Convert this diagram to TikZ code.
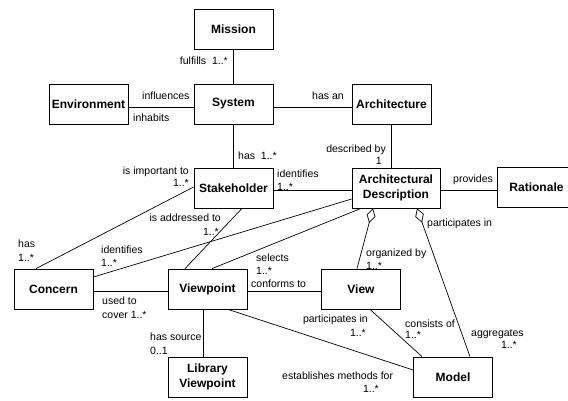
\documentclass[tikz,border=0pt]{standalone}
\usepackage{fontspec}
\setmainfont{Liberation Sans}
\usetikzlibrary{arrows.meta}
\begin{document}
\begin{tikzpicture}[x=1pt,y=-1pt,
  box/.style={draw,line width=0.8pt,minimum width=79pt,minimum height=40pt,inner sep=0pt,
    align=center,font=\bfseries\fontsize{12}{14.5}\selectfont},
  conn/.style={line width=0.7pt},
  agg/.style={line width=0.7pt,{Diamond[open,length=15pt,width=9pt]}-},
  lbl/.style={inner sep=0pt,font=\fontsize{10.5}{12}\selectfont},
  lw/.style={lbl,anchor=base west},
  le/.style={lbl,anchor=base east}]
\useasboundingbox (0,0) rectangle (568,400);
% boxes
\node[box] (mission) at (233.5,29) {Mission};
\node[box] (env) at (88.5,104) {Environment};
\node[box] (sys) at (233.5,104) {System};
\node[box] (arch) at (391.5,104) {Architecture};
\node[box] (stake) at (233.5,188) {Stakeholder};
\node[box,minimum width=88pt] (ad) at (396,188) {Architectural\\Description};
\node[box] (rat) at (536.5,187) {Rationale};
\node[box] (concern) at (53.5,289) {Concern};
\node[box] (vp) at (207.5,289) {Viewpoint};
\node[box] (view) at (361,289) {View};
\node[box] (lib) at (207.5,377) {Library\\Viewpoint};
\node[box] (model) at (453,377) {Model};
% connectors
\draw[conn] (mission.south) -- (sys.north);
\draw[conn] ([yshift=-3pt]env.east) -- ([yshift=-3pt]sys.west);
\draw[conn] ([yshift=-3pt]sys.east) -- ([yshift=-3pt]arch.west);
\draw[conn] (sys.south) -- (stake.north);
\draw[conn] (arch.south) -- (arch.south |- ad.north);
\draw[conn] ([yshift=-2pt]stake.east) -- ([yshift=-2pt]ad.west);
\draw[conn] ([yshift=-2pt]ad.east) -- ([yshift=-3pt]rat.west);
\draw[conn] ([yshift=1pt]stake.west) -- ([xshift=-17.5pt]concern.north);
\draw[conn] ([xshift=8.5pt]stake.south) -- ([xshift=-22.5pt]vp.north);
\draw[conn] ([yshift=-11pt]ad.west) -- ([yshift=12pt]concern.east);
\draw[conn] ([xshift=-35pt]ad.south) -- ([xshift=4.5pt]vp.north);
\draw[agg] ([xshift=-23pt]ad.south) -- ([xshift=-4pt]view.north);
\draw[agg] ([xshift=21pt]ad.south) -- ([xshift=17pt]model.north);
\draw[conn] ([yshift=-2pt]concern.east) -- ([yshift=-2pt]vp.west);
\draw[conn] ([yshift=-2pt]vp.east) -- ([yshift=-2pt]view.west);
\draw[conn] ([xshift=-4.5pt]vp.south) -- ([xshift=-4.5pt]lib.north);
\draw[conn] ([xshift=20.5pt]vp.south) -- ([yshift=7pt]model.west);
\draw[conn] ([xshift=9pt]view.south) -- ([xshift=-31pt]model.north);
% labels
\node[le] (l1) at (228,64) {fulfills~~1..*};
\node[lw] (l2) at (142,99) {influences};
\node[lw] (l3) at (133,121) {inhabits};
\node[lw] (l4) at (312,99) {has an};
\node[lw] (l5) at (238,159) {has~~1..*};
\node[le] (l6) at (189,174) {is important to};
\node[le] (l6b) at (189,186) {1..*};
\node[lw] (l7) at (277,177) {identifies};
\node[lw] (l7b) at (277,190) {1..*};
\node[le] (l8) at (386,152) {described by};
\node[le] (l8b) at (382,164) {1};
\node[lw] (l9) at (453,182) {provides};
\node[le] (l10) at (221,221) {is addressed to};
\node[le] (l10b) at (219,235) {1..*};
\node[lw] (l11) at (18,247) {has};
\node[lw] (l11b) at (18,261) {1..*};
\node[lw] (l12) at (101,253) {identifies};
\node[lw] (l12b) at (101,266) {1..*};
\node[lw] (l13) at (256,261) {selects};
\node[lw] (l13b) at (256,274) {1..*};
\node[lw] (l14) at (251,287) {conforms to};
\node[lw] (l15) at (366,256) {organized by};
\node[lw] (l15b) at (366,269) {1..*};
\node[lw] (l16) at (427,226) {participates in};
\node[lw] (l17) at (102,304) {used to};
\node[lw] (l17b) at (102,318) {cover 1..*};
\node[lw] (l18) at (150,340) {has source};
\node[lw] (l18b) at (150,354) {0..1};
\node[le] (l19) at (368,322) {participates in};
\node[le] (l19b) at (366,336) {1..*};
\node[lw] (l20) at (405,327) {consists of};
\node[lw] (l20b) at (405,338) {1..*};
\node[lw] (l21) at (471,336) {aggregates};
\node[le] (l21b) at (517,348) {1..*};
\node[lw] (l22) at (282,379) {establishes methods for};
\node[le] (l22b) at (379,392) {1..*};
\end{tikzpicture}
\end{document}
